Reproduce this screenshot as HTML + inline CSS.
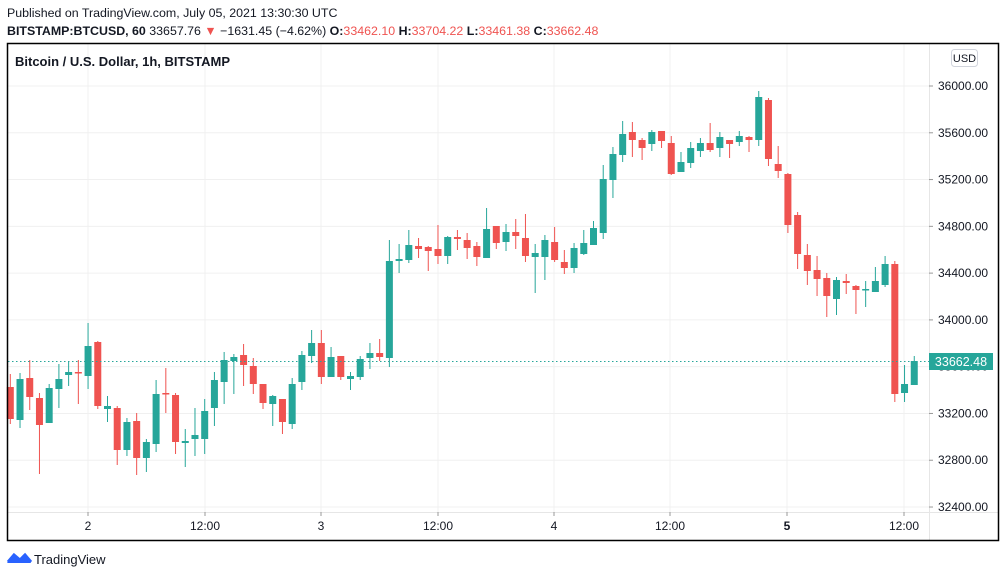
<!DOCTYPE html>
<html><head><meta charset="utf-8"><style>
body{margin:0;background:#fff;width:1006px;height:577px;overflow:hidden;font-family:"Liberation Sans",sans-serif}
</style></head><body>
<svg id="s" width="1006" height="577" xmlns="http://www.w3.org/2000/svg" font-family="Liberation Sans, sans-serif">
<text x="7" y="17" font-size="12.4" fill="#131722">Published on TradingView.com, July 05, 2021 13:30:30 UTC</text>
<text x="7" y="35" font-size="12.4" fill="#131722"><tspan font-weight="bold">BITSTAMP:BTCUSD, 60</tspan> 33657.76 <tspan fill="#ef5350">▼</tspan> −1631.45 (−4.62%) <tspan font-weight="bold">O:</tspan><tspan fill="#ef5350">33462.10</tspan> <tspan font-weight="bold">H:</tspan><tspan fill="#ef5350">33704.22</tspan> <tspan font-weight="bold">L:</tspan><tspan fill="#ef5350">33461.38</tspan> <tspan font-weight="bold">C:</tspan><tspan fill="#ef5350">33662.48</tspan></text>
<g id="grid" stroke="#f0f0f0" stroke-width="1"></g>
<g id="c"></g>
<line x1="8" y1="361.5" x2="929" y2="361.5" stroke="#26a69a" stroke-dasharray="1.5,2.5"/>
<line x1="8" y1="512.5" x2="998" y2="512.5" stroke="#e6e6e6"/>
<line x1="929.5" y1="43" x2="929.5" y2="540" stroke="#e6e6e6"/>
<rect x="7.5" y="43.5" width="991" height="497" fill="none" stroke="#000" stroke-width="1.5"/>
<text x="15" y="66" font-size="13" font-weight="bold" fill="#131722">Bitcoin / U.S. Dollar, 1h, BITSTAMP</text>
<rect x="951.5" y="49.5" width="26" height="17" rx="3" fill="#fff" stroke="#d1d4dc"/>
<text x="964.5" y="62" font-size="11" fill="#131722" text-anchor="middle">USD</text>
<g id="ax" font-size="12" fill="#131722"></g>
<rect x="929" y="353" width="64" height="17" fill="#26a69a"/>
<text x="961" y="366" font-size="12.5" fill="#fff" text-anchor="middle">33662.48</text>
<path d="M7 563 L14 554 L19 559 L24 554 L29 559 L31 563 Z" fill="#2962ff"/>
<path d="M8 562 L14 555 L20 560 L25 555 L31 562" fill="none" stroke="#2962ff" stroke-width="3"/>
<text x="34" y="564" font-size="13" fill="#131722">TradingView</text>
</svg>
<script>
var d=[[387,419,374,424,0],[379,420,373,428,1],[378,397,360,410,0],[398,425,393,474,0],[388,423,384,423,1],[379,389,364,408,1],[372,375,361,386,1],[372,373,360,404,0],[346,376,323,389,1],[342,406,341,409,0],[406,409,396,422,1],[408,450,406,465,0],[422,450,418,456,1],[421,458,413,475,0],[442,458,439,472,1],[394,444,380,452,1],[393,394,368,413,0],[395,442,393,454,0],[441,443,429,467,1],[435,439,408,456,1],[411,439,399,454,1],[380,408,372,426,1],[360,382,352,404,1],[357,361,354,394,1],[355,365,344,386,0],[366,384,358,394,0],[384,403,384,409,0],[396,404,395,426,1],[399,422,399,434,0],[384,424,378,429,1],[355,382,351,390,1],[343,356,330,363,1],[343,377,330,384,0],[357,377,347,377,1],[356,377,356,380,0],[376,379,372,390,1],[359,377,356,380,1],[353,358,343,369,1],[353,357,339,361,0],[261,358,240,367,1],[259,261,244,273,1],[245,260,230,263,1],[246,249,238,258,0],[247,251,246,271,0],[249,256,225,264,0],[237,256,236,264,1],[237,239,230,250,0],[240,248,233,259,0],[246,257,242,266,0],[229,258,208,258,1],[226,243,226,249,0],[232,242,224,251,1],[232,236,219,249,0],[238,256,214,262,0],[253,257,244,293,1],[240,257,235,280,1],[242,260,227,262,0],[262,268,250,274,0],[248,268,243,273,1],[243,254,230,255,1],[228,245,221,245,1],[179,233,165,239,1],[154,180,147,198,1],[134,155,121,162,1],[132,140,122,157,0],[140,148,138,160,0],[132,144,130,151,1],[131,141,131,148,0],[143,174,136,175,0],[162,172,152,172,1],[148,163,142,168,1],[143,151,138,157,1],[143,150,123,152,0],[137,148,132,157,1],[140,144,140,158,0],[136,142,131,146,1],[137,140,136,152,0],[97,140,91,146,1],[100,159,98,166,0],[164,171,146,178,0],[174,225,173,233,0],[215,254,212,269,0],[255,271,244,285,0],[270,279,256,296,0],[278,296,273,317,0],[280,299,277,315,1],[281,283,274,294,0],[286,290,285,314,0],[289,290,281,307,1],[281,292,267,292,1],[264,285,256,287,1],[264,394,261,402,0],[384,393,365,402,1],[361,385,356,385,1]];
var g=document.getElementById("c"),h="";
d.forEach(function(c,i){var x=10.3+i*9.72,col=c[4]?"#26a69a":"#ef5350";
h+='<line x1="'+x+'" x2="'+x+'" y1="'+c[2]+'" y2="'+c[3]+'" stroke="'+col+'" stroke-width="1"/>';
h+='<rect x="'+(x-3.5)+'" y="'+c[0]+'" width="7" height="'+Math.max(1.5,c[1]-c[0])+'" fill="'+col+'"/>';});
g.innerHTML=h;
var gr="",ax="";
for(var k=0;k<10;k++){var p=36000-k*400,y=86+k*46.78;gr+='<line x1="8" x2="929" y1="'+y+'" y2="'+y+'"/>';
ax+='<line x1="929" x2="933" y1="'+y+'" y2="'+y+'" stroke="#999"/><text x="938" y="'+(y+4)+'">'+p+'.00</text>';}
var xs=[88,205,321,438,554,670,787,904],lb=["2","12:00","3","12:00","4","12:00","5","12:00"];
xs.forEach(function(x,i){gr+='<line y1="44" y2="512" x1="'+x+'" x2="'+x+'"/>';
ax+='<line y1="512" y2="516" x1="'+x+'" x2="'+x+'" stroke="#999"/><text text-anchor="middle" x="'+x+'" y="530"'+(lb[i]=="5"?' font-weight="bold"':'')+'>'+lb[i]+'</text>';});
document.getElementById("grid").innerHTML=gr;document.getElementById("ax").innerHTML=ax;
</script>
</body></html>
